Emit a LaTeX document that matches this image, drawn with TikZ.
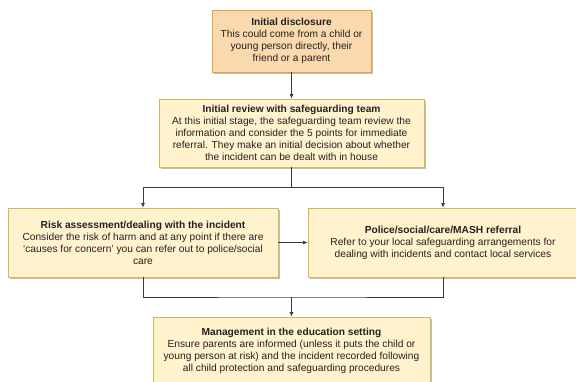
\documentclass[tikz,border=0pt]{standalone}
\usepackage{fontspec}
\setmainfont{Liberation Sans}
\usetikzlibrary{arrows.meta,shadows}
\definecolor{orfill}{HTML}{FAD9AE}
\definecolor{ordraw}{HTML}{E3A33C}
\definecolor{yefill}{HTML}{FFF2CC}
\definecolor{yedraw}{HTML}{D6B656}
\definecolor{txt}{HTML}{222222}
\definecolor{wire}{HTML}{3A3A3A}
\tikzset{
  box/.style={draw=yedraw, fill=yefill, line width=0.8pt, align=center,
    font=\fontsize{10.2}{12}\selectfont, text=txt, inner sep=2pt,
    drop shadow={shadow xshift=1.5pt, shadow yshift=-1.5pt, fill=black, opacity=0.25}},
  orbox/.style={box, draw=ordraw, fill=orfill},
  wireline/.style={draw=wire, line width=0.8pt},
  arr/.style={wireline, -{Latex[length=4.5pt,width=4pt]}}
}
\begin{document}
\begin{tikzpicture}[x=1pt,y=-1pt]
\useasboundingbox (0,0) rectangle (576,381);
\clip (0,0) rectangle (576,381);
\fill[white] (0,0) rectangle (576,381);
\node[orbox, minimum width=159pt, minimum height=62pt] (b1) at (291.5,41)
  {\textbf{Initial disclosure}\\This could come from a child or\\young person directly, their\\friend or a parent};
\node[box, minimum width=265pt, minimum height=68pt] (b2) at (291.5,133)
  {\textbf{Initial review with safeguarding team}\\At this initial stage, the safeguarding team review the\\information and consider the 5 points for immediate\\referral. They make an initial decision about whether\\the incident can be dealt with in house};
\node[box, minimum width=270pt, minimum height=69pt] (b3) at (143,242.5)
  {\textbf{Risk assessment/dealing with the incident}\\Consider the risk of harm and at any point if there are\\`causes for concern' you can refer out to police/social\\care};
\node[box, minimum width=270pt, minimum height=69pt] (b4) at (443,242.5)
  {\textbf{Police/social/care/MASH referral}\\Refer to your local safeguarding arrangements for\\dealing with incidents and contact local services};
\node[box, minimum width=277pt, minimum height=68pt] (b5) at (291.5,351)
  {\textbf{Management in the education setting}\\Ensure parents are informed (unless it puts the child or\\young person at risk) and the incident recorded following\\all child protection and safeguarding procedures};
\coordinate (j1) at (291.5,187);
\coordinate (j2) at (291.5,297);
\draw[arr] (b1) -- (b2);
\draw[wireline] (b2.south) -- (j1);
\draw[arr] (j1) -| (b3.north);
\draw[arr] (j1) -| (b4.north);
\draw[arr] (b3.east) -- (b4.west);
\draw[wireline] (b3.south) |- (j2) -| (b4.south);
\draw[arr] (j2) -- (b5.north);
\end{tikzpicture}
\end{document}
